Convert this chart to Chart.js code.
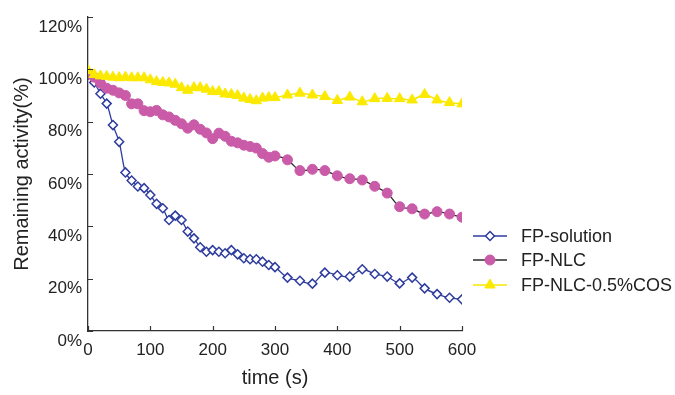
<!DOCTYPE html>
<html>
<head>
<meta charset="utf-8">
<script src="https://cdn.jsdelivr.net/npm/chart.js@4.4.1/dist/chart.umd.min.js"></script>
<style>
  html, body { margin: 0; padding: 0; background: #fff; }
  #wrap { width: 675px; height: 395px; }
</style>
</head>
<body>
<div id="wrap"><canvas id="activityChart"></canvas></div>
<script>
// tiempos de muestreo (s)
const times = [0, 10, 20, 30, 40, 50, 60, 70, 80, 90, 100, 110, 120, 130, 140, 150,
  160, 170, 180, 190, 200, 210, 220, 230, 240, 250, 260, 270, 280, 290, 300,
  320, 340, 360, 380, 400, 420, 440, 460, 480, 500, 520, 540, 560, 580, 600];

const fpSolution = [98, 95, 90.7, 86.9, 78.7, 72.3, 60.6, 57.5, 55.2, 54.6, 52.0, 48.6, 46.9, 42.4, 44.1, 42.4,
  38.0, 35.4, 32.0, 30.3, 30.9, 30.3, 29.7, 30.9, 29.3, 27.8, 27.4, 27.4, 26.5, 25.2, 24.4,
  20.4, 19.2, 18.1, 22.3, 21.3, 20.8, 23.6, 21.8, 20.8, 18.2, 20.4, 16.3, 14.1, 12.7, 12.1];

const fpNlc = [98.5, 97.0, 94.7, 92.8, 92.0, 91.0, 90.0, 86.8, 86.8, 84.2, 83.8, 84.3, 82.6, 81.8, 80.5, 79.2,
  77.5, 78.8, 77.1, 75.7, 73.5, 75.6, 74.4, 72.5, 71.9, 71.0, 70.5, 69.9, 67.8, 66.4, 66.9,
  65.4, 61.3, 61.8, 61.3, 59.3, 58.2, 57.7, 55.3, 52.7, 47.5, 46.7, 44.7, 45.6, 44.7, 43.5];

const fpNlcCos = [99.5, 98.0, 97.5, 97.3, 97.0, 96.8, 97.0, 96.8, 96.8, 96.8, 96.0, 95.3, 95.0, 94.8, 94.3, 93.0,
  92.0, 93.0, 93.0, 92.4, 91.5, 91.5, 90.6, 90.4, 90.0, 89.0, 88.5, 88.0, 89.0, 89.2, 89.2,
  90.2, 90.9, 90.2, 89.6, 88.1, 89.4, 87.6, 88.8, 88.9, 88.8, 88.3, 90.4, 88.3, 87.3, 86.8];

const xTicks = [0, 100, 200, 300, 400, 500, 600];
const yTicks = [0, 20, 40, 60, 80, 100, 120];

const toPoints = (ys) => times.map((t, i) => ({ x: t, y: ys[i] }));

const FONT = "'Liberation Sans', Arial, sans-serif";
const TEXT = "#222";

// marcas de los ejes hacia dentro, como en Excel
const innerTicks = {
  id: "innerTicks",
  afterDraw(chart) {
    const { ctx, chartArea, scales } = chart;
    ctx.save();
    ctx.strokeStyle = "#333";
    ctx.lineWidth = 1.2;
    ctx.beginPath();
    xTicks.forEach((v) => {
      const px = Math.round(scales.x.getPixelForValue(v)) + 0.5;
      ctx.moveTo(px, chartArea.bottom);
      ctx.lineTo(px, chartArea.bottom - 5);
    });
    yTicks.forEach((v) => {
      const py = Math.round(scales.y.getPixelForValue(v)) + 0.5;
      ctx.moveTo(chartArea.left, py);
      ctx.lineTo(chartArea.left + 5, py);
    });
    ctx.stroke();
    ctx.restore();
  },
};

// leyenda propia: línea con marcador en medio
const sideLegend = {
  id: "sideLegend",
  afterDraw(chart) {
    const ctx = chart.ctx;
    const rows = [236, 260, 285];
    chart.data.datasets.forEach((ds, i) => {
      const y = rows[i];
      ctx.save();
      ctx.strokeStyle = ds.borderColor;
      ctx.lineWidth = ds.borderWidth;
      ctx.beginPath();
      ctx.moveTo(473, y);
      ctx.lineTo(507, y);
      ctx.stroke();
      ctx.fillStyle = ds.pointBackgroundColor;
      ctx.strokeStyle = ds.pointBorderColor;
      ctx.lineWidth = ds.pointBorderWidth;
      Chart.helpers.drawPoint(ctx, {
        pointStyle: ds.pointStyle,
        radius: ds.pointRadius,
        rotation: 0,
        borderWidth: ds.pointBorderWidth,
      }, 490, y);
      ctx.fillStyle = TEXT;
      ctx.font = "18px " + FONT;
      ctx.textBaseline = "middle";
      ctx.fillText(ds.label, 521, y + 1);
      ctx.restore();
    });
  },
};

const ctx = document.getElementById("activityChart").getContext("2d");
const activityChart = new Chart(ctx, {
  type: "line",
  data: {
    datasets: [
      {
        label: "FP-solution",
        data: toPoints(fpSolution),
        borderColor: "#2E3C9E",
        borderWidth: 1.3,
        pointStyle: "rectRot",
        pointRadius: 4.5,
        pointBackgroundColor: "#ffffff",
        pointBorderColor: "#2E3C9E",
        pointBorderWidth: 1.5,
        tension: 0.3,
        order: 2,
      },
      {
        label: "FP-NLC",
        data: toPoints(fpNlc),
        borderColor: "#2b2b2b",
        borderWidth: 1.3,
        pointStyle: "circle",
        pointRadius: 5,
        pointBackgroundColor: "#C95BA8",
        pointBorderColor: "#C95BA8",
        pointBorderWidth: 1,
        tension: 0.3,
        order: 1,
      },
      {
        label: "FP-NLC-0.5%COS",
        data: toPoints(fpNlcCos),
        borderColor: "#F7E800",
        borderWidth: 1.5,
        pointStyle: "triangle",
        pointRadius: 6,
        pointBackgroundColor: "#FBEA00",
        pointBorderColor: "#FBEA00",
        pointBorderWidth: 1,
        tension: 0.3,
        order: 0,
      },
    ],
  },
  options: {
    responsive: true,
    maintainAspectRatio: false,
    animation: false,
    layout: { padding: { left: 0, right: 213, top: 17, bottom: 0 } },
    plugins: {
      legend: { display: false },
      tooltip: { enabled: false },
    },
    scales: {
      x: {
        type: "linear",
        min: 0,
        max: 600,
        afterFit: (s) => { s.height = 64; },
        afterBuildTicks: (s) => { s.ticks = xTicks.map((v) => ({ value: v })); },
        grid: { drawOnChartArea: false, drawTicks: false },
        border: { color: "#333", width: 1.3 },
        ticks: { color: TEXT, font: { family: FONT, size: 17 }, padding: 9, maxRotation: 0 },
        title: { display: true, text: "time (s)", color: TEXT, font: { family: FONT, size: 20 }, padding: 5 },
      },
      y: {
        min: 0,
        max: 120,
        afterFit: (s) => { s.width = 88; },
        afterBuildTicks: (s) => { s.ticks = yTicks.map((v) => ({ value: v })); },
        grid: { drawOnChartArea: false, drawTicks: false },
        border: { color: "#333", width: 1.3 },
        ticks: {
          color: TEXT,
          font: { family: FONT, size: 17 },
          padding: 6,
          labelOffset: 10,
          callback: (v) => v + "%",
        },
        title: { display: true, text: "Remaining activity(%)", color: TEXT, font: { family: FONT, size: 20 }, padding: 10 },
      },
    },
  },
  plugins: [innerTicks, sideLegend],
});
</script>
</body>
</html>
